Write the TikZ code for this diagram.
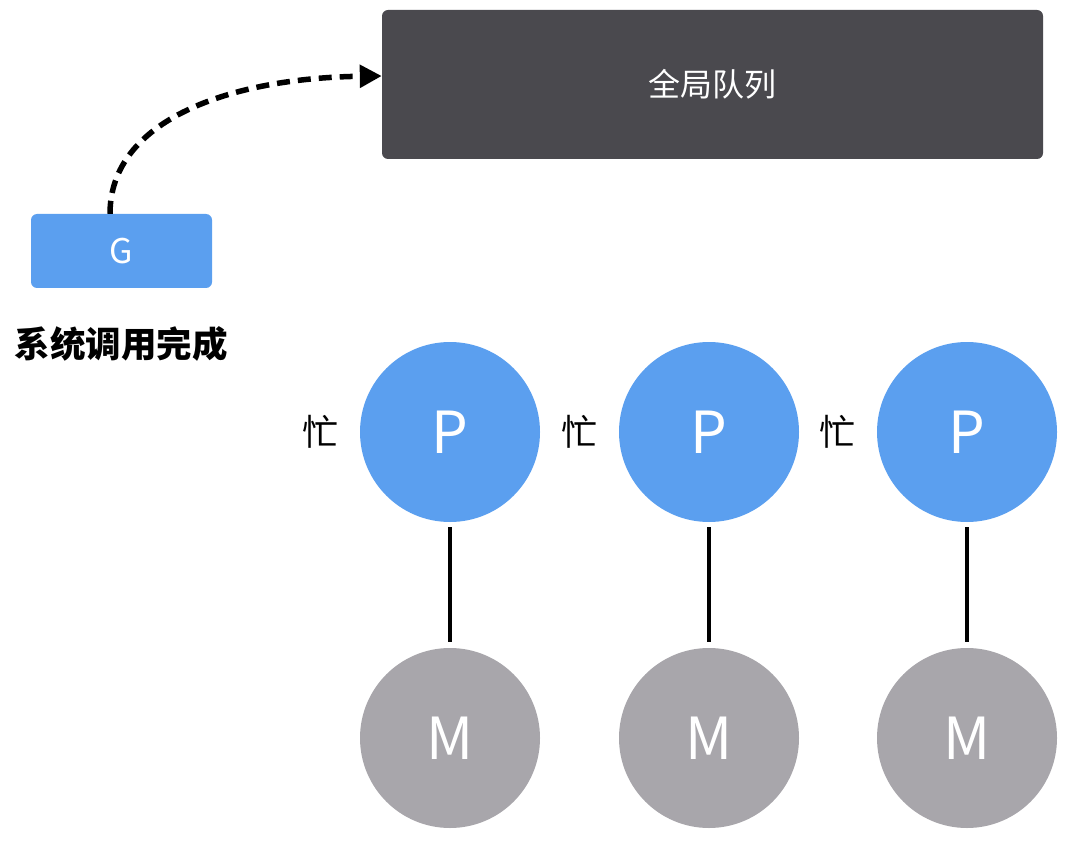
\documentclass[tikz,border=0pt]{standalone}
\usepackage{fontspec}
\setmainfont{Noto Sans CJK SC}
\usetikzlibrary{arrows.meta}
\definecolor{pblue}{HTML}{5B9FEF}
\definecolor{mgray}{HTML}{A8A6AB}
\definecolor{qdark}{HTML}{4A494E}
\tikzset{
  proc/.style={circle, fill=pblue, minimum size=180pt, inner sep=0pt,
    text=white, font=\fontsize{58}{60}\selectfont},
  mach/.style={circle, fill=mgray, minimum size=180pt, inner sep=0pt,
    text=white, font=\fontsize{58}{60}\selectfont},
  busy/.style={font=\fontsize{36}{38}\selectfont}
}
\begin{document}
\begin{tikzpicture}[x=1pt, y=-1pt]
  \useasboundingbox (0, 0) rectangle (1084, 842);

  % Global queue
  \node [fill=qdark, rounded corners=6pt, minimum width=661pt,
    minimum height=149pt, text=white, font=\fontsize{32}{34}\selectfont]
    (queue) at (712.5, 84.5) {全局队列};

  % G
  \node [fill=pblue, rounded corners=6pt, minimum width=181pt,
    minimum height=74pt, text=white, font=\fontsize{34}{36}\selectfont]
    (g) at (121.5, 251) {G};
  \node [font=\bfseries\fontsize{35.5}{37}\selectfont] (done) at (121, 344)
    {系统调用完成};

  % Edge
  \draw [line width=5.5pt, dash pattern=on 13pt off 8pt,
    -{Triangle[length=22pt, width=22pt]}]
    (g.north -| 110, 0) .. controls (110, 120) and (230, 78) .. (queue.west |- 0, 76);

  % P and M
  \foreach \i/\x in {1/450, 2/709, 3/967} {
    \node [proc] (p\i) at (\x, 432) {P};
    \node [mach] (m\i) at (\x, 738) {M};
    \node [busy, anchor=east] (busy\i) at (\x - 108, 432) {忙};
    \draw [line width=3.5pt, shorten <=5pt, shorten >=6pt] (p\i) -- (m\i);
  }
\end{tikzpicture}
\end{document}
